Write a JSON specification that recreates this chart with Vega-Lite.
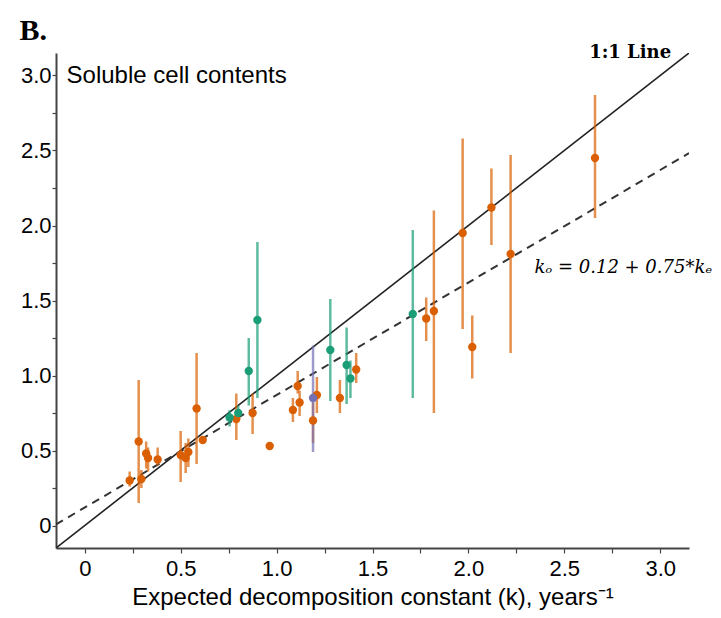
{
  "$schema": "https://vega.github.io/schema/vega-lite/v6.json",
  "autosize": "none",
  "width": 633,
  "height": 495,
  "padding": {"left": 56, "top": 53, "right": 32, "bottom": 70},
  "background": "white",
  "config": {
    "view": {"stroke": null},
    "axis": {"labelFont": "Liberation Sans", "titleFont": "Liberation Sans", "labelColor": "#000", "titleColor": "#000", "domainColor": "#444", "tickColor": "#444", "grid": false}
  },
  "datasets": {
    "pts": [
      {"k": 0.234, "ko": 0.30, "lo": 0.26, "hi": 0.36, "g": "orange"},
      {"k": 0.281, "ko": 0.56, "lo": 0.15, "hi": 0.97, "g": "orange"},
      {"k": 0.295, "ko": 0.31, "lo": 0.25, "hi": 0.37, "g": "orange"},
      {"k": 0.32, "ko": 0.48, "lo": 0.38, "hi": 0.56, "g": "orange"},
      {"k": 0.33, "ko": 0.45, "lo": 0.36, "hi": 0.52, "g": "orange"},
      {"k": 0.38, "ko": 0.44, "lo": 0.40, "hi": 0.52, "g": "orange"},
      {"k": 0.50, "ko": 0.47, "lo": 0.29, "hi": 0.63, "g": "orange"},
      {"k": 0.526, "ko": 0.45, "lo": 0.35, "hi": 0.55, "g": "orange"},
      {"k": 0.54, "ko": 0.49, "lo": 0.39, "hi": 0.58, "g": "orange"},
      {"k": 0.583, "ko": 0.78, "lo": 0.41, "hi": 1.15, "g": "orange"},
      {"k": 0.615, "ko": 0.57, "lo": 0.55, "hi": 0.59, "g": "orange"},
      {"k": 0.79, "ko": 0.71, "lo": 0.57, "hi": 0.88, "g": "orange"},
      {"k": 0.875, "ko": 0.75, "lo": 0.61, "hi": 0.88, "g": "orange"},
      {"k": 0.964, "ko": 0.53, "lo": 0.52, "hi": 0.54, "g": "orange"},
      {"k": 1.085, "ko": 0.77, "lo": 0.69, "hi": 0.85, "g": "orange"},
      {"k": 1.11, "ko": 0.93, "lo": 0.88, "hi": 1.03, "g": "orange"},
      {"k": 1.12, "ko": 0.82, "lo": 0.73, "hi": 0.90, "g": "orange"},
      {"k": 1.19, "ko": 0.70, "lo": 0.55, "hi": 0.82, "g": "orange"},
      {"k": 1.21, "ko": 0.87, "lo": 0.75, "hi": 0.99, "g": "orange"},
      {"k": 1.33, "ko": 0.85, "lo": 0.75, "hi": 0.97, "g": "orange"},
      {"k": 1.415, "ko": 1.04, "lo": 0.95, "hi": 1.15, "g": "orange"},
      {"k": 1.78, "ko": 1.38, "lo": 1.23, "hi": 1.52, "g": "orange"},
      {"k": 1.82, "ko": 1.43, "lo": 0.75, "hi": 2.10, "g": "orange"},
      {"k": 1.97, "ko": 1.95, "lo": 1.31, "hi": 2.58, "g": "orange"},
      {"k": 2.02, "ko": 1.19, "lo": 0.98, "hi": 1.40, "g": "orange"},
      {"k": 2.12, "ko": 2.12, "lo": 1.87, "hi": 2.38, "g": "orange"},
      {"k": 2.22, "ko": 1.81, "lo": 1.15, "hi": 2.47, "g": "orange"},
      {"k": 2.66, "ko": 2.45, "lo": 2.05, "hi": 2.87, "g": "orange"},
      {"k": 0.755, "ko": 0.72, "lo": 0.66, "hi": 0.77, "g": "green"},
      {"k": 0.80, "ko": 0.75, "lo": 0.70, "hi": 0.80, "g": "green"},
      {"k": 0.855, "ko": 1.03, "lo": 0.80, "hi": 1.25, "g": "green"},
      {"k": 0.90, "ko": 1.37, "lo": 0.85, "hi": 1.89, "g": "green"},
      {"k": 1.28, "ko": 1.17, "lo": 0.83, "hi": 1.51, "g": "green"},
      {"k": 1.365, "ko": 1.07, "lo": 0.81, "hi": 1.32, "g": "green"},
      {"k": 1.385, "ko": 0.98, "lo": 0.85, "hi": 1.10, "g": "green"},
      {"k": 1.71, "ko": 1.41, "lo": 0.85, "hi": 1.97, "g": "green"},
      {"k": 1.19, "ko": 0.85, "lo": 0.49, "hi": 1.20, "g": "purple"}
    ],
    "oneone": [{"k": -0.15, "ko": -0.15}, {"k": 3.15, "ko": 3.15}],
    "fit": [{"k": -0.15, "ko": 0.0075}, {"k": 3.15, "ko": 2.4825}]
  },
  "layer": [
    {
      "data": {"name": "oneone"},
      "mark": {"type": "line", "color": "#222", "strokeWidth": 1.6, "clip": true},
      "encoding": {
        "x": {"field": "k", "type": "quantitative", "scale": {"domain": [-0.15, 3.15], "nice": false, "zero": false},
          "axis": {"values": [0, 0.25, 0.5, 0.75, 1, 1.25, 1.5, 1.75, 2, 2.25, 2.5, 2.75, 3],
            "labelExpr": "datum.value % 0.5 == 0 ? (datum.value == 0 ? '0' : format(datum.value, '.1f')) : ''",
            "labelFontSize": 22, "labelPadding": 5, "tickSize": 5, "tickWidth": 1.2, "domainWidth": 2,
            "title": "Expected decomposition constant (k), years⁻¹", "titleFontSize": 24, "titleFontWeight": "normal", "titlePadding": 6}},
        "y": {"field": "ko", "type": "quantitative", "scale": {"domain": [-0.15, 3.15], "nice": false, "zero": false},
          "axis": {"values": [0, 0.25, 0.5, 0.75, 1, 1.25, 1.5, 1.75, 2, 2.25, 2.5, 2.75, 3],
            "labelExpr": "datum.value % 0.5 == 0 ? (datum.value == 0 ? '0' : format(datum.value, '.1f')) : ''",
            "labelFontSize": 22, "labelPadding": 1, "tickSize": 4, "tickWidth": 1.2, "domainWidth": 2, "title": null}}
      }
    },
    {
      "data": {"name": "fit"},
      "mark": {"type": "line", "color": "#333", "strokeWidth": 2, "strokeDash": [8, 6], "clip": true},
      "encoding": {
        "x": {"field": "k", "type": "quantitative"},
        "y": {"field": "ko", "type": "quantitative"}
      }
    },
    {
      "data": {"name": "pts"},
      "mark": {"type": "rule", "strokeWidth": 2.5, "opacity": 0.7},
      "encoding": {
        "x": {"field": "k", "type": "quantitative"},
        "y": {"field": "lo", "type": "quantitative"},
        "y2": {"field": "hi"},
        "color": {"field": "g", "type": "nominal", "scale": {"domain": ["orange", "green", "purple"], "range": ["#d95f02", "#1b9e77", "#7570b3"]}, "legend": null}
      }
    },
    {
      "data": {"name": "pts"},
      "mark": {"type": "circle", "size": 70, "opacity": 1},
      "encoding": {
        "x": {"field": "k", "type": "quantitative"},
        "y": {"field": "ko", "type": "quantitative"},
        "color": {"field": "g", "type": "nominal", "legend": null}
      }
    },
    {
      "data": {"values": [{"t": "Soluble cell contents"}]},
      "mark": {"type": "text", "align": "left", "baseline": "middle", "font": "Liberation Sans", "fontSize": 24, "color": "#000"},
      "encoding": {"x": {"datum": -0.095}, "y": {"datum": 3.0}, "text": {"field": "t"}}
    },
    {
      "data": {"values": [{"t": "1:1 Line"}]},
      "mark": {"type": "text", "align": "right", "baseline": "middle", "font": "DejaVu Serif", "fontWeight": "bold", "fontSize": 18, "color": "#000"},
      "encoding": {"x": {"datum": 3.057}, "y": {"datum": 3.15}, "text": {"field": "t"}}
    },
    {
      "data": {"values": [{"t": "kₒ = 0.12 + 0.75*kₑ"}]},
      "mark": {"type": "text", "align": "left", "baseline": "middle", "font": "DejaVu Serif", "fontStyle": "italic", "fontSize": 18, "color": "#000"},
      "encoding": {"x": {"datum": 2.344}, "y": {"datum": 1.72}, "text": {"field": "t"}}
    },
    {
      "data": {"values": [{"t": "B."}]},
      "mark": {"type": "text", "align": "left", "baseline": "middle", "font": "Liberation Serif", "fontWeight": "bold", "fontSize": 30, "color": "#000"},
      "encoding": {"x": {"datum": -0.34}, "y": {"datum": 3.3}, "text": {"field": "t"}}
    }
  ]
}
